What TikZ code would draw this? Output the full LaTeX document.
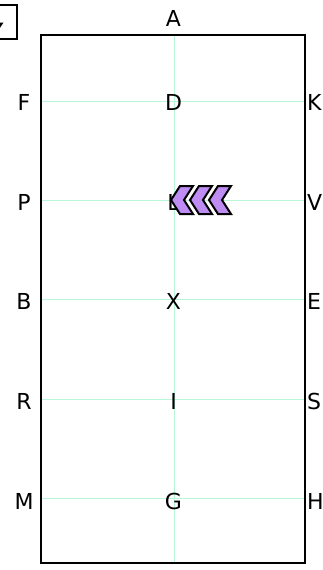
\documentclass[tikz,border=0pt]{standalone}
\usepackage{fontspec}
\setmainfont{DejaVu Sans}
\definecolor{gridmint}{RGB}{185,245,215}
\definecolor{chevfill}{RGB}{190,140,242}
\begin{document}
\begin{tikzpicture}[x=1pt,y=-1pt,
  lbl/.style={inner sep=0pt, font=\fontsize{22}{23}\selectfont},
  gridline/.style={draw=gridmint, line width=1pt},
  field/.style={draw=black, line width=2.4pt},
  chev/.style={draw=black, fill=chevfill, line width=2pt, line join=miter},
  btn/.style={draw=black, line width=1.8pt}]
\useasboundingbox (0,0) rectangle (322,570);
% grid line end points
\coordinate (vtop) at (174,35);
\coordinate (vbot) at (174,563);
\foreach \n/\y in {1/101,2/200.5,3/299.5,4/399.5,5/498.5}{
  \coordinate (gl\n) at (41,\y);
  \coordinate (gr\n) at (305,\y);
}
\foreach \n in {1,...,5}{ \draw[gridline] (gl\n) -- (gr\n); }
\draw[gridline] (vtop) -- (vbot);
% field
\draw[field] (41,35) rectangle (305,563);
% labels
\node[lbl] (A) at (173.5,18) {A};
\foreach \n/\y/\l/\c/\r in {1/102.5/F/D/K,2/202/P/L/V,3/301/B/X/E,4/401/R/I/S,5/501/M/G/H}{
  \node[lbl] (left\n) at (24,\y) {\l};
  \node[lbl] (mid\n) at (173.5,\y) {\c};
  \node[lbl,anchor=west] (right\n) at (307,\y) {\r};
}
% chevrons
\foreach \i in {0,1,2}{
  \draw[chev] ({171+19*\i},200) -- ++(9,-14) -- ++(13,0) -- ++(-9,14) -- ++(9,14) -- ++(-13,0) -- cycle;
}
% top-left button
\draw[btn] (-20,5) rectangle (17,39);
\fill (-5,22.5) -- (3.5,22.5) -- (-0.75,29) -- cycle;
\end{tikzpicture}
\end{document}
